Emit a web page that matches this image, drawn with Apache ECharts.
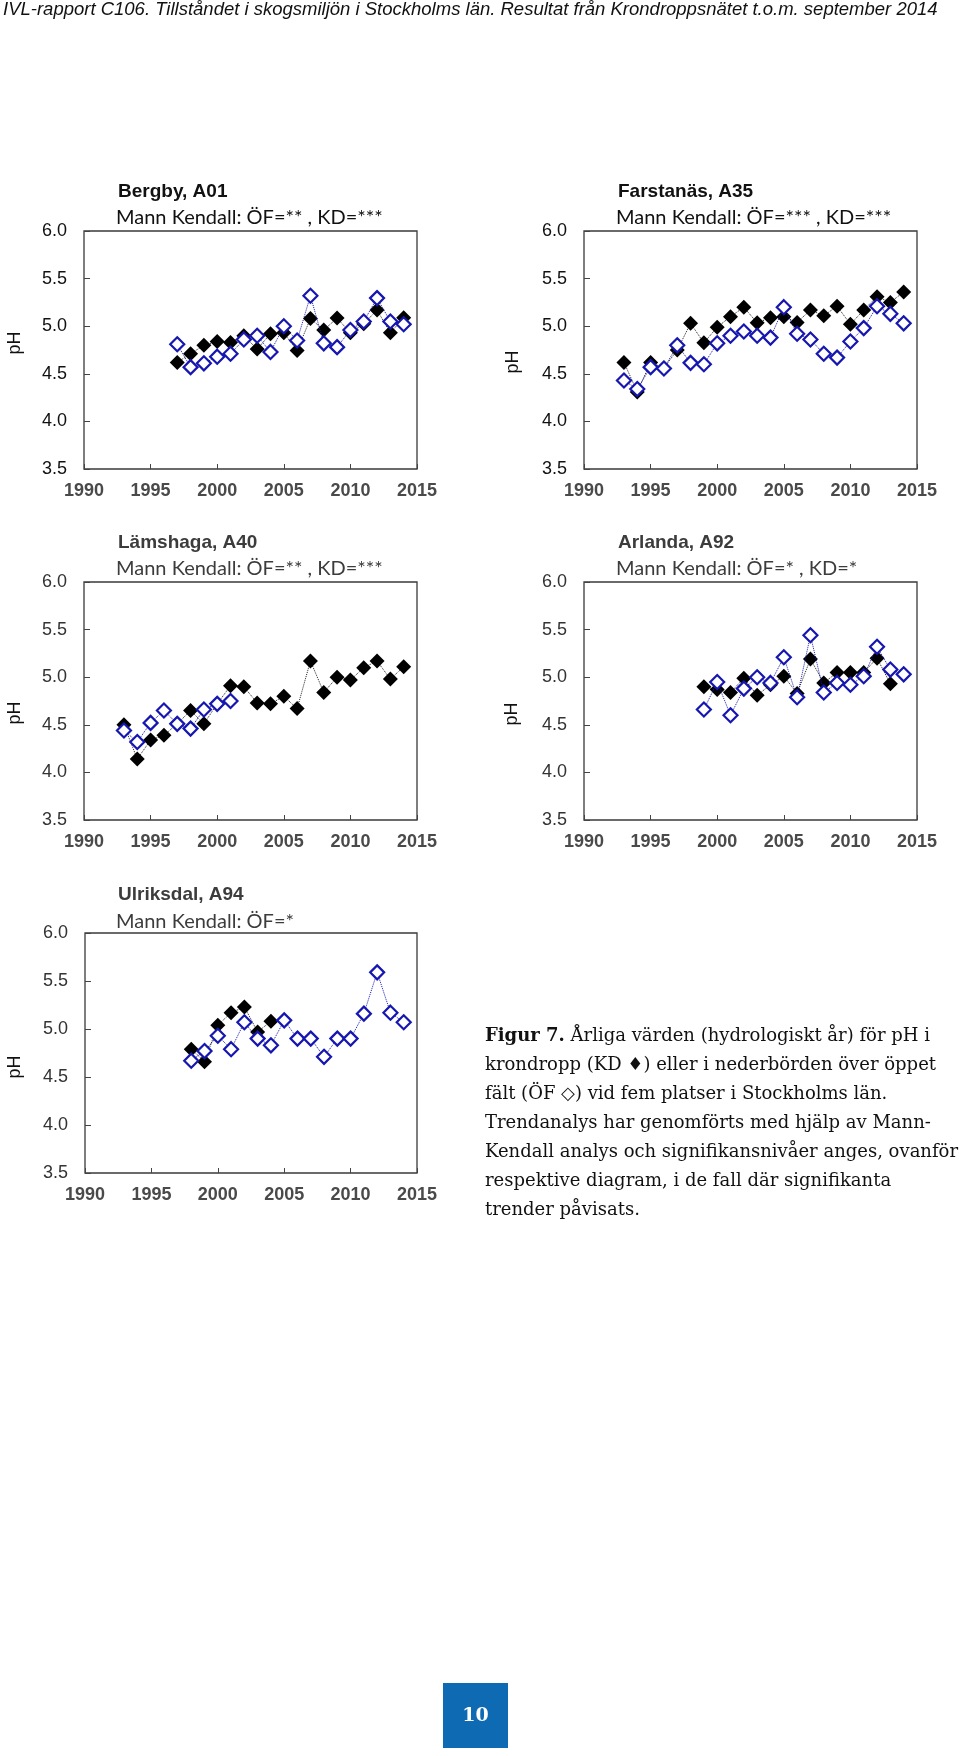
<!DOCTYPE html>
<html>
<head>
<meta charset="utf-8">
<script src="https://cdn.jsdelivr.net/npm/echarts@6/dist/echarts.min.js"></script>
<style>
html,body{margin:0;padding:0;background:#fff;}
#c{width:960px;height:1756px;}
</style>
</head>
<body>
<div id="c"></div>
<script>
// ---------- data ----------
const xTicks = [1990, 1995, 2000, 2005, 2010, 2015];
const yTicks = [3.5, 4.0, 4.5, 5.0, 5.5, 6.0];

const bergbyYears = [1997,1998,1999,2000,2001,2002,2003,2004,2005,2006,2007,2008,2009,2010,2011,2012,2013,2014];
const bergbyKD = [4.62,4.71,4.80,4.84,4.83,4.90,4.76,4.92,4.93,4.745,5.08,4.96,5.085,4.93,5.025,5.17,4.93,5.09];
const bergbyOF = [4.81,4.57,4.61,4.68,4.71,4.86,4.90,4.73,5.00,4.85,5.32,4.82,4.78,4.96,5.05,5.295,5.05,5.02];

const farstanasYears = [1993,1994,1995,1996,1997,1998,1999,2000,2001,2002,2003,2004,2005,2006,2007,2008,2009,2010,2011,2012,2013,2014];
const farstanasKD = [4.62,4.31,4.62,4.56,4.75,5.03,4.825,4.99,5.10,5.20,5.035,5.09,5.10,5.04,5.17,5.11,5.21,5.02,5.17,5.31,5.25,5.36];
const farstanasOF = [4.43,4.34,4.57,4.555,4.80,4.615,4.60,4.82,4.90,4.945,4.90,4.88,5.20,4.92,4.86,4.71,4.67,4.84,4.98,5.21,5.13,5.03];

const lamshagaKDYears = [1993,1994,1995,1996,1997,1998,1999,2000,2001,2002,2003,2004,2005,2006,2007,2008,2009,2010,2011,2012,2013,2014];
const lamshagaKD = [4.50,4.14,4.34,4.39,4.51,4.65,4.51,4.72,4.91,4.90,4.73,4.72,4.80,4.67,5.17,4.84,5.00,4.97,5.10,5.17,4.98,5.11];
const lamshagaOFYears = [1993,1994,1995,1996,1997,1998,1999,2000,2001];
const lamshagaOF = [4.44,4.32,4.52,4.65,4.51,4.46,4.66,4.72,4.75];

const arlandaKDYears = [1999,2000,2001,2002,2003,2004,2005,2006,2007,2008,2009,2010,2011,2012,2013];
const arlandaKD = [4.90,4.87,4.84,4.99,4.81,4.92,5.01,4.83,5.19,4.94,5.05,5.05,5.05,5.20,4.93];
const arlandaOFYears = [1999,2000,2001,2002,2003,2004,2005,2006,2007,2008,2009,2010,2011,2012,2013,2014];
const arlandaOF = [4.66,4.95,4.60,4.88,5.00,4.94,5.21,4.79,5.44,4.84,4.94,4.92,5.01,5.32,5.08,5.03];

const ulriksdalKDYears = [1998,1999,2000,2001,2002,2003,2004];
const ulriksdalKD = [4.79,4.66,5.04,5.17,5.23,4.97,5.08];
const ulriksdalOFYears = [1998,1999,2000,2001,2002,2003,2004,2005,2006,2007,2008,2009,2010,2011,2012,2013,2014];
const ulriksdalOF = [4.67,4.77,4.93,4.79,5.07,4.90,4.83,5.09,4.90,4.90,4.71,4.90,4.90,5.16,5.59,5.17,5.07];

const siteNames = ['Bergby, A01','Farstanäs, A35','Lämshaga, A40','Arlanda, A92','Ulriksdal, A94'];
const siteTrends = ['Mann Kendall: ÖF=** , KD=***','Mann Kendall: ÖF=*** , KD=***','Mann Kendall: ÖF=** , KD=***','Mann Kendall: ÖF=* , KD=*','Mann Kendall: ÖF=*'];

const headerText = 'IVL-rapport C106. Tillståndet i skogsmiljön i Stockholms län. Resultat från Krondroppsnätet t.o.m. september 2014';
const captionLines = [
  '{b|Figur 7.} Årliga värden (hydrologiskt år) för pH i',
  'krondropp (KD ♦) eller i nederbörden över öppet',
  'fält (ÖF ◇) vid fem platser i Stockholms län.',
  'Trendanalys har genomförts med hjälp av Mann-',
  'Kendall analys och signifikansnivåer anges, ovanför',
  'respektive diagram, i de fall där signifikanta',
  'trender påvisats.'
];
const pageNumber = '10';

// ---------- layout ----------
const panels = [
  {kdY: bergbyYears, kd: bergbyKD, ofY: bergbyYears, of: bergbyOF, grid:{left:84, top:231, width:333, height:238}, title:[118,192], sub:[116,218], ph:[15,343], dim:false},
  {kdY: farstanasYears, kd: farstanasKD, ofY: farstanasYears, of: farstanasOF, grid:{left:584, top:231, width:333, height:238}, title:[618,192], sub:[616,218], ph:[513,362], dim:false},
  {kdY: lamshagaKDYears, kd: lamshagaKD, ofY: lamshagaOFYears, of: lamshagaOF, grid:{left:84, top:582, width:333, height:238}, title:[118,543], sub:[116,569], ph:[15,713], dim:true},
  {kdY: arlandaKDYears, kd: arlandaKD, ofY: arlandaOFYears, of: arlandaOF, grid:{left:584, top:582, width:333, height:238}, title:[618,543], sub:[616,569], ph:[512,714], dim:true},
  {kdY: ulriksdalKDYears, kd: ulriksdalKD, ofY: ulriksdalOFYears, of: ulriksdalOF, grid:{left:85, top:933, width:332, height:240}, title:[118,895], sub:[116,922], ph:[15,1067], dim:true}
];

const BLUE = '#1616b0';
const grids = [], xAxes = [], yAxes = [], series = [], graphics = [];

panels.forEach((p, i) => {
  grids.push(Object.assign({show:true, borderColor:'#3a3a3a', borderWidth:1.3, backgroundColor:'transparent'}, p.grid));
  xAxes.push({
    type:'value', gridIndex:i, min:xTicks[0], max:xTicks[xTicks.length-1], interval:5,
    axisLine:{show:false}, splitLine:{show:false},
    axisTick:{show:true, inside:true, length:5, lineStyle:{color:'#444', width:1}},
    axisLabel:{show:true, margin:13, fontSize:18, fontFamily:'Liberation Sans, Arial, sans-serif', fontWeight:'bold', color:'#4a4a4a',
      formatter: v => xTicks.indexOf(v) >= 0 ? String(v) : ''}
  });
  yAxes.push({
    type:'value', gridIndex:i, min:yTicks[0], max:yTicks[yTicks.length-1], interval:0.5,
    axisLine:{show:false}, splitLine:{show:false},
    axisTick:{show:true, inside:true, length:6, lineStyle:{color:'#444', width:1}},
    axisLabel:{show:true, margin:17, fontSize:18, fontFamily:'Liberation Sans, Arial, sans-serif', color: p.dim ? '#333' : '#111',
      formatter: v => v.toFixed(1)}
  });
  series.push({
    type:'line', xAxisIndex:i, yAxisIndex:i, z:3,
    data: p.kdY.map((y, k) => [y, p.kd[k]]),
    connectNulls:true,
    symbol:'diamond', symbolSize:15,
    itemStyle:{color:'#000', borderColor:'#000', borderWidth:0},
    lineStyle:{color:'#222', width:1, type:'dotted'},
    animation:false
  });
  series.push({
    type:'line', xAxisIndex:i, yAxisIndex:i, z:4,
    data: p.ofY.map((y, k) => [y, p.of[k]]),
    symbol:'diamond', symbolSize:14,
    itemStyle:{color:'#fff', borderColor:BLUE, borderWidth:2.2},
    lineStyle:{color:BLUE, width:1, type:'dotted'},
    animation:false
  });
  const tcol = p.dim ? '#3c3c3c' : '#111';
  graphics.push({type:'text', x:p.title[0], y:p.title[1], style:{text:siteNames[i], font:'bold 19px "Liberation Sans", Arial, sans-serif', fill:tcol, textVerticalAlign:'middle'}});
  graphics.push({type:'text', x:p.sub[0], y:p.sub[1], style:{text:siteTrends[i], font:'20px Lato, "Open Sans", sans-serif', fill:tcol, textVerticalAlign:'middle'}});
  graphics.push({type:'text', x:p.ph[0], y:p.ph[1], rotation:Math.PI/2, style:{text:'pH', font:'18px "Liberation Sans", Arial, sans-serif', fill:'#111', textAlign:'center', textVerticalAlign:'middle'}});
});

// header
graphics.push({type:'text', x:3, y:10, style:{text:headerText, font:'italic 18.5px "Liberation Sans Narrow", "Liberation Sans", sans-serif', fill:'#111', textVerticalAlign:'middle'}});

// caption
captionLines.forEach((line, k) => {
  graphics.push({type:'text', x:485, y:1036 + k*29, style:{
    text: line, font:'18px "DejaVu Serif", serif', fill:'#111', textVerticalAlign:'middle',
    rich:{b:{font:'bold 18px "DejaVu Serif", serif', fill:'#111'}}
  }});
});

// page number box
graphics.push({type:'rect', shape:{x:443, y:1683, width:65, height:65}, style:{fill:'#0f6ab4'}});
graphics.push({type:'text', x:475.5, y:1716, style:{text:pageNumber, font:'bold 19px "DejaVu Serif", serif', fill:'#fff', textAlign:'center', textVerticalAlign:'middle'}});

const chart = echarts.init(document.getElementById('c'), null, {renderer:'canvas', width:960, height:1756});
chart.setOption({
  animation:false,
  backgroundColor:'#fff',
  grid:grids, xAxis:xAxes, yAxis:yAxes, series:series,
  graphic:{elements:graphics}
});
</script>
</body>
</html>
